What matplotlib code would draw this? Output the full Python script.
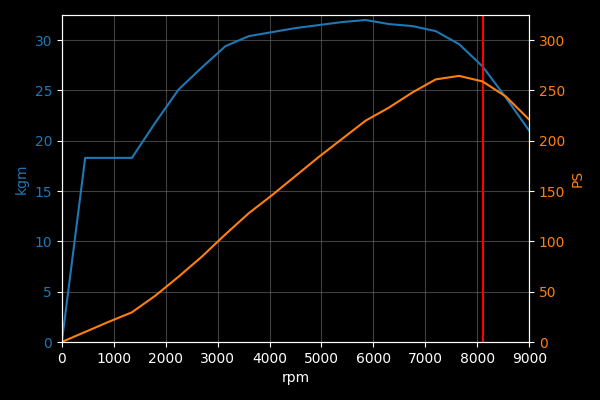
import matplotlib
matplotlib.use("Agg")
import matplotlib.pyplot as plt

# engine curve, one sample every 450 rpm
rpm = [0, 450, 900, 1350, 1800, 2250, 2700, 3150, 3600, 4050, 4500,
       4950, 5400, 5850, 6300, 6750, 7200, 7650, 8100, 8550, 9000]
kgm = [0, 18.3, 18.3, 18.3, 21.8, 25.1, 27.3, 29.4, 30.4, 30.8, 31.2,
       31.5, 31.8, 32.0, 31.6, 31.4, 30.9, 29.6, 27.4, 24.3, 21.0]
ps = [0, 10, 20, 29.5, 46, 65, 85, 107, 128, 146, 165,
      184, 202, 220, 233, 248, 261, 264.5, 259, 244, 221]
redline_rpm = 8110

BLUE = "#1f77b4"
ORANGE = "#ff7f0e"

plt.style.use("dark_background")
fig, ax = plt.subplots(figsize=(6, 4), dpi=100)
fig.subplots_adjust(left=0.103, right=0.882, top=0.9625, bottom=0.145)

ax.plot(rpm, kgm, color=BLUE)
ax.set_xlim(0, 9000)
ax.set_ylim(0, 32.5)
ax.set_xlabel("rpm")
ax.set_ylabel("kgm", color=BLUE)
ax.tick_params(axis="y", labelcolor=BLUE)
ax.grid(True, color="gray", alpha=0.5, linewidth=0.8)

ax2 = ax.twinx()
ax2.plot(rpm, ps, color=ORANGE)
ax2.set_ylim(0, 325)
ax2.set_ylabel("PS", color=ORANGE)
ax2.tick_params(axis="y", labelcolor=ORANGE)

ax.axvline(redline_rpm, color="red", linewidth=1.5)

fig.savefig("out.png")
